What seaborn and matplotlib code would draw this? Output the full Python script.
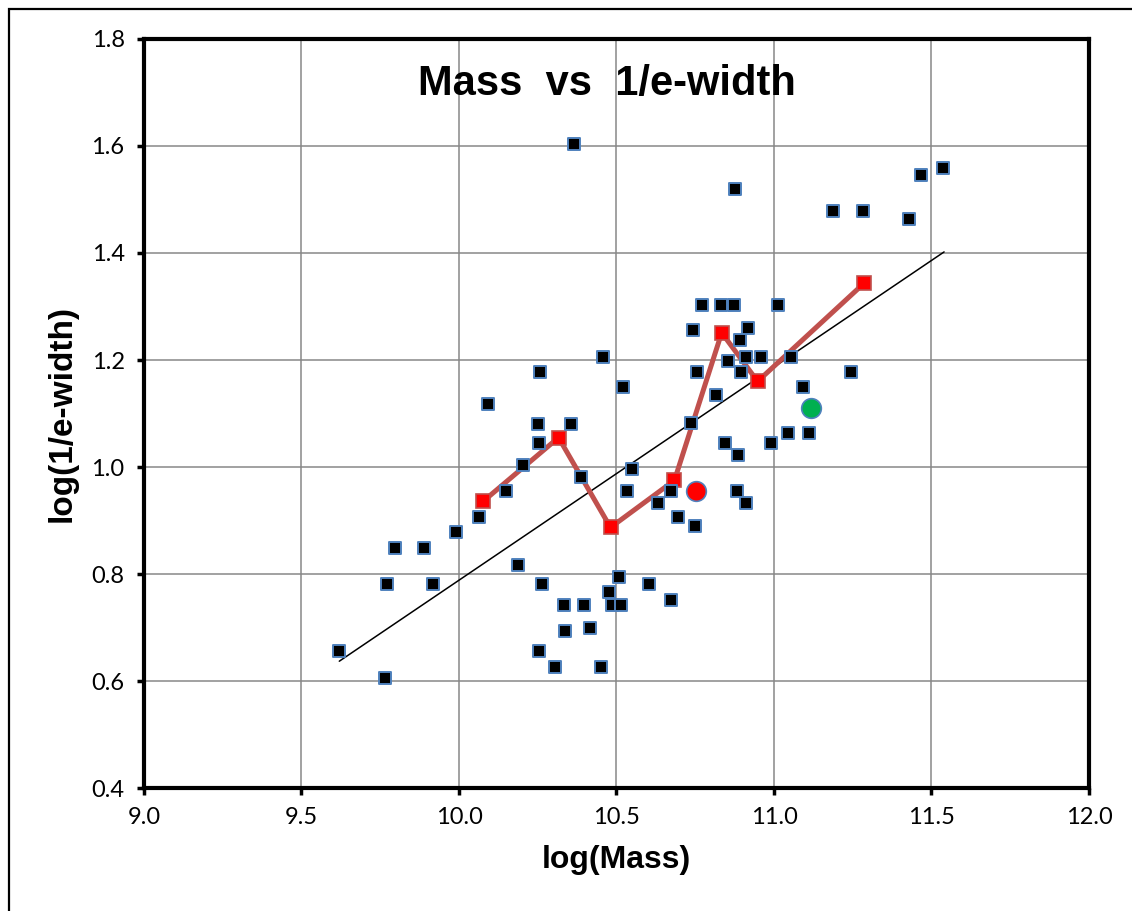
import matplotlib
matplotlib.use("Agg")
import numpy as np
import pandas as pd
import seaborn as sns
from matplotlib import pyplot as plt
from matplotlib.patches import Rectangle

# galaxy sample: log(Mass) vs log(1/e-width)
log_mass = [
    9.619, 9.766, 9.772, 9.797, 9.889, 9.918, 9.991, 10.064, 10.093, 10.150,
    10.204, 10.188, 10.252, 10.255, 10.258, 10.264, 10.255, 10.356, 10.366, 10.388,
    10.334, 10.337, 10.306, 10.398, 10.417, 10.452, 10.458, 10.477, 10.487, 10.515,
    10.509, 10.522, 10.534, 10.550, 10.604, 10.633, 10.674, 10.674, 10.696, 10.744,
    10.738, 10.750, 10.757, 10.773, 10.833, 10.874, 11.014, 10.817, 10.877, 10.893,
    10.916, 10.855, 10.912, 10.960, 10.896, 10.843, 10.887, 10.881, 10.912, 10.989,
    11.043, 11.112, 11.055, 11.093, 11.246, 11.186, 11.281, 11.430, 11.468, 11.538,
]
log_width = [
    0.656, 0.605, 0.781, 0.848, 0.848, 0.781, 0.878, 0.906, 1.117, 0.956,
    1.003, 0.816, 1.081, 1.044, 1.178, 0.781, 0.656, 1.081, 1.604, 0.981,
    0.742, 0.693, 0.626, 0.742, 0.700, 0.626, 1.206, 0.766, 0.742, 0.742,
    0.794, 1.149, 0.956, 0.997, 0.781, 0.932, 0.751, 0.956, 0.906, 1.257,
    1.083, 0.889, 1.178, 1.303, 1.303, 1.303, 1.303, 1.134, 1.520, 1.238,
    1.259, 1.199, 1.206, 1.206, 1.178, 1.044, 1.023, 0.956, 0.932, 1.044,
    1.063, 1.063, 1.206, 1.149, 1.178, 1.479, 1.479, 1.464, 1.546, 1.559,
]

# binned means (red line)
bin_mass = [10.077, 10.316, 10.481, 10.684, 10.834, 10.948, 11.285]
bin_width = [0.936, 1.055, 0.887, 0.975, 1.251, 1.160, 1.343]

# linear fit end points
fit_mass = [9.62, 11.54]
fit_width = [0.637, 1.402]

# two highlighted objects
red_obj_mass, red_obj_width = [10.754], [0.956]
green_obj_mass, green_obj_width = [11.116], [1.111]

df = pd.DataFrame({"log_mass": log_mass, "log_width": log_width})

sns.set_theme(style="white")
plt.rcParams["font.family"] = ["Lato", "DejaVu Sans"]
plt.rcParams["text.color"] = "black"
plt.rcParams["axes.labelcolor"] = "black"
plt.rcParams["xtick.color"] = "black"
plt.rcParams["ytick.color"] = "black"

fig = plt.figure(figsize=(11.32, 9.11), dpi=100)
ax = fig.add_axes([0.1272, 0.135, 0.8348, 0.8222])

sns.lineplot(x=fit_mass, y=fit_width, color="black", linewidth=1.1, ax=ax, zorder=3)
sns.lineplot(
    x=bin_mass, y=bin_width, color="#C0504D", linewidth=3.6, sort=False,
    marker="s", markersize=10.5, markerfacecolor="#FF0000",
    markeredgecolor="#C0504D", markeredgewidth=1.2, ax=ax, zorder=4,
)
sns.scatterplot(
    data=df, x="log_mass", y="log_width", marker="s", s=66, color="black",
    edgecolor="#4F81BD", linewidth=1.4, ax=ax, zorder=5,
)
sns.scatterplot(x=red_obj_mass, y=red_obj_width, s=200, color="#FF0000",
                edgecolor="#4F81BD", linewidth=1.2, ax=ax, zorder=6)
sns.scatterplot(x=green_obj_mass, y=green_obj_width, s=200, color="#00B050",
                edgecolor="#4F81BD", linewidth=1.2, ax=ax, zorder=6)

ax.set_xlim(9.0, 12.0)
ax.set_ylim(0.4, 1.8)
ax.set_xticks(np.arange(9.0, 12.01, 0.5))
ax.set_yticks(np.arange(0.4, 1.81, 0.2))
ax.set_xticklabels([f"{v:.1f}" for v in np.arange(9.0, 12.01, 0.5)])
ax.set_yticklabels([f"{v:.1f}" for v in np.arange(0.4, 1.81, 0.2)])
ax.grid(True, color="#878787", linewidth=1.1)
ax.set_axisbelow(True)
for s in ax.spines.values():
    s.set_color("black")
    s.set_linewidth(3)
ax.tick_params(direction="out", length=5, width=2.5, color="black",
               labelcolor="black", labelsize=17, pad=9, bottom=True, left=True)

ax.set_xlabel("log(Mass)", fontsize=23, fontweight="bold",
              family="Liberation Sans", labelpad=12)
ax.set_ylabel("log(1/e-width)", fontsize=24, fontweight="bold",
              family="Liberation Sans", labelpad=10)
ax.text(0.49, 0.94, "Mass  vs  1/e-width", transform=ax.transAxes,
        ha="center", va="center", fontsize=30, fontweight="bold",
        family="Liberation Sans", color="black")

# outer frame of the original chart area
fig.patches.append(Rectangle((9 / 1132, -0.1), 1.2, 1.1 - 9 / 911,
                             transform=fig.transFigure, fill=False,
                             edgecolor="black", linewidth=1.6))

fig.savefig("out.png", dpi=100)
